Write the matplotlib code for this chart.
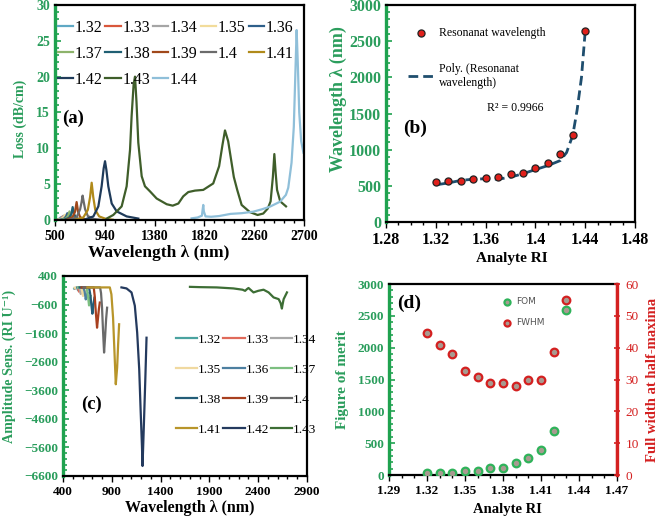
import numpy as np
import matplotlib
matplotlib.use("Agg")
import matplotlib.pyplot as plt
from matplotlib.ticker import MultipleLocator, FixedLocator

plt.rcParams['font.family'] = ['Liberation Serif', 'DejaVu Serif']

GREEN = '#1fa24f'
GREEN_TXT = '#2a9d5c'
RED = '#d42020'

# ---------------- (a) loss spectra, (wavelength nm, loss dB/cm) ----------------
ri_a = ['1.32', '1.33', '1.34', '1.35', '1.36', '1.37', '1.38', '1.39', '1.4', '1.41', '1.42', '1.43', '1.44']
col_a = ['#5fa8c4', '#d9573b', '#a5a5a5', '#f2dc9b', '#2e5f8a', '#8db36b', '#1f5f73',
         '#a0481a', '#6b6b6b', '#b08a1a', '#1f3b5a', '#3f5e2a', '#8fbfd9']

a_132 = [(505, 0.02), (530, 0.12), (545, 0.28), (553, 0.4), (561, 0.28), (575, 0.12), (600, 0.04), (640, 0.01)]
a_133 = [(515, 0.02), (545, 0.15), (559, 0.33), (567, 0.5), (575, 0.33), (590, 0.14), (620, 0.04), (660, 0.01)]
a_134 = [(520, 0.02), (550, 0.17), (566, 0.4), (575, 0.6), (584, 0.4), (600, 0.16), (630, 0.05), (670, 0.01)]
a_135 = [(530, 0.02), (562, 0.2), (580, 0.45), (590, 0.75), (600, 0.45), (616, 0.2), (645, 0.06), (690, 0.01)]
a_136 = [(540, 0.02), (580, 0.18), (598, 0.5), (609, 0.95), (620, 0.5), (636, 0.18), (665, 0.05), (710, 0.01)]
a_137 = [(560, 0.03), (598, 0.22), (617, 0.62), (628, 1.2), (639, 0.62), (656, 0.22), (690, 0.06), (730, 0.01)]
a_138 = [(580, 0.03), (625, 0.3), (645, 0.85), (656, 1.8), (668, 0.85), (686, 0.3), (720, 0.08), (770, 0.02)]
a_139 = [(600, 0.03), (655, 0.4), (677, 1.15), (691, 2.5), (704, 1.15), (722, 0.4), (760, 0.1), (810, 0.02)]
a_140 = [(620, 0.03), (690, 0.35), (722, 1.5), (735, 2.5), (744, 3.4), (754, 2.5), (766, 1.5), (790, 0.55), (840, 0.15), (900, 0.04)]
a_141 = [(680, 0.04), (750, 0.35), (790, 1.4), (810, 3.2), (824, 5.2), (838, 3.2), (856, 1.4), (890, 0.5), (950, 0.15), (1010, 0.04)]
a_142 = [(760, 0.05), (839, 0.5), (883, 1.9), (912, 4.7), (930, 7.2), (942, 8.2), (954, 7.0), (971, 4.7), (1001, 2.3),
         (1045, 1.2), (1133, 0.5), (1236, 0.2)]
a_143 = [(957, 0.2), (1015, 0.7), (1089, 1.9), (1133, 4.7), (1163, 9.8), (1177, 14.5), (1195, 19.0), (1207, 20.0),
         (1220, 16.5), (1236, 10.8), (1266, 6.1), (1295, 4.7), (1339, 4.0), (1398, 3.0), (1487, 2.2), (1540, 2.0),
         (1590, 2.3), (1633, 3.3), (1678, 3.9), (1737, 4.1), (1810, 4.2), (1898, 5.1), (1950, 7.5), (1980, 10.5),
         (2002, 12.5), (2030, 11.0), (2060, 8.0), (2080, 6.0), (2110, 4.2), (2149, 2.1), (2222, 1.1), (2290, 0.7),
         (2340, 0.9), (2380, 1.6), (2405, 2.6), (2425, 6.0), (2438, 9.2), (2450, 6.5), (2462, 4.2), (2490, 2.6), (2541, 1.9)]
a_144 = [(1707, 0.23), (1760, 0.35), (1798, 0.6), (1805, 1.5), (1810, 2.1), (1815, 1.2), (1830, 0.5), (1880, 0.45),
         (1950, 0.55), (2050, 0.85), (2150, 0.95), (2252, 1.16), (2330, 1.5), (2399, 1.86), (2488, 2.55), (2540, 3.5),
         (2561, 4.5), (2590, 8.0), (2610, 13.0), (2622, 19.5), (2635, 26.5), (2645, 22.0), (2658, 15.0), (2675, 11.0),
         (2695, 9.4)]
series_a = [a_132, a_133, a_134, a_135, a_136, a_137, a_138, a_139, a_140, a_141, a_142, a_143, a_144]

# ---------------- (b) resonant wavelength vs RI ----------------
ri_b = [1.32, 1.33, 1.34, 1.35, 1.36, 1.37, 1.38, 1.39, 1.40, 1.41, 1.42, 1.43, 1.44]
res_wl = [553, 567, 567, 590, 609, 628, 660, 684, 740, 814, 935, 1205, 2647]
poly_ri = [1.3205, 1.33, 1.34, 1.35, 1.36, 1.37, 1.38, 1.39, 1.40, 1.41, 1.42, 1.425, 1.43, 1.4335, 1.437, 1.44]
poly_wl = [515, 540, 575, 592, 598, 592, 620, 668, 725, 780, 850, 960, 1200, 1550, 2000, 2640]

# ---------------- (c) amplitude sensitivity, (wavelength nm, RIU^-1) ----------------
ri_c = ['1.32', '1.33', '1.34', '1.35', '1.36', '1.37', '1.38', '1.39', '1.4', '1.41', '1.42', '1.43']
col_c = ['#4aa3a0', '#e06a5a', '#a8a8a8', '#f0d9a0', '#4d7fa0', '#7cbf80', '#235d78',
         '#a8401f', '#6a6a6a', '#b8952a', '#243a5e', '#3d6e35']

c_132 = [(515, -40), (535, -10), (548, -40), (554, -100), (562, -60), (572, -30)]
c_133 = [(525, -30), (550, -10), (558, -60), (564, -150), (572, -90), (582, -50)]
c_134 = [(530, -20), (565, -10), (575, -90), (582, -230), (590, -140), (600, -80)]
c_135 = [(520, -10), (585, -10), (596, -120), (605, -300), (614, -200), (626, -130)]
c_136 = [(545, -5), (610, -5), (622, -150), (633, -420), (642, -300), (651, -200)]
c_137 = [(555, 0), (640, 0), (652, -200), (667, -630), (675, -450), (684, -300)]
c_138 = [(570, 0), (667, 0), (680, -250), (692, -650), (701, -920), (712, -600), (722, -360)]
c_139 = [(590, 0), (715, 0), (725, -300), (737, -900), (749, -1410), (758, -1100), (768, -750), (777, -530)]
c_140 = [(610, 0), (780, 0), (790, -200), (800, -700), (810, -1500), (821, -2280), (832, -1700), (842, -1100), (852, -710)]
c_141 = [(650, 0), (880, 0), (896, -240), (913, -1060), (927, -2220), (941, -3390), (955, -2800), (965, -1990), (975, -1290)]
c_142 = [(999, 0), (1051, -35), (1102, -175), (1136, -640), (1160, -1575), (1181, -2860), (1195, -4250), (1209, -5540),
         (1215, -6250), (1229, -4790), (1243, -3275), (1256, -1760)]
c_143 = [(1701, 20), (1800, 10), (1975, 0), (2146, -35), (2240, -80), (2266, -120), (2285, -60), (2301, -20),
         (2352, -175), (2400, -120), (2455, -80), (2507, -175), (2558, -350), (2610, -410), (2630, -550), (2643, -740),
         (2650, -600), (2661, -410), (2695, -175)]
series_c = [c_132, c_133, c_134, c_135, c_136, c_137, c_138, c_139, c_140, c_141, c_142, c_143]

# ---------------- (d) FOM and FWHM ----------------
ri_d = [1.32, 1.33, 1.34, 1.35, 1.36, 1.37, 1.38, 1.39, 1.40, 1.41, 1.42, 1.43]
fom = [26, 26, 26, 68, 68, 105, 105, 184, 273, 399, 692, 2585]
fwhm = [44.7, 40.9, 38.0, 32.8, 30.8, 29.0, 29.0, 28.0, 30.0, 30.0, 38.8, 54.9]


def style_axes(ax, size, left_color=GREEN, right_color='black'):
    for s in ['top', 'right', 'bottom']:
        ax.spines[s].set_color('black')
        ax.spines[s].set_linewidth(1.6)
    ax.spines['right'].set_color(right_color)
    ax.spines['left'].set_color(left_color)
    ax.spines['left'].set_linewidth(2.4)
    ax.tick_params(axis='y', which='both', direction='in', colors=left_color, labelcolor=GREEN_TXT,
                   labelsize=size, width=1.2)
    ax.tick_params(axis='y', which='major', length=4)
    ax.tick_params(axis='y', which='minor', length=3)
    ax.tick_params(axis='x', which='both', direction='out', labelsize=size, width=1.0)
    ax.tick_params(axis='x', which='major', length=4)
    ax.tick_params(axis='x', which='minor', length=2.5)
    for t in ax.get_xticklabels() + ax.get_yticklabels():
        t.set_fontweight('bold')


def put_labels(ax, xl, xs, xpos, yl, ys, ypos, ycolor=GREEN_TXT):
    ax.set_xlabel(xl, fontsize=xs, fontweight='bold')
    ax.set_ylabel(yl, fontsize=ys, fontweight='bold', color=ycolor)
    ax.xaxis.label.set_va('center')
    ax.yaxis.label.set_va('center')
    ax.xaxis.set_label_coords(*xpos)
    ax.yaxis.set_label_coords(*ypos)


fig = plt.figure(figsize=(6.61, 5.18), dpi=100)

# ---- (a)
ax = fig.add_axes([0.0832, 0.5753, 0.3767, 0.4151])
for lab, c, s in zip(ri_a, col_a, series_a):
    xy = np.array(s)
    ax.plot(xy[:, 0], xy[:, 1], color=c, lw=1.6, label=lab)
ax.set_xlim(500, 2700)
ax.set_ylim(0, 30)
ax.set_xticks([500, 940, 1380, 1820, 2260, 2700])
ax.xaxis.set_minor_locator(FixedLocator(np.arange(500, 2701, 88)))
ax.yaxis.set_major_locator(MultipleLocator(5))
ax.yaxis.set_minor_locator(MultipleLocator(1))
style_axes(ax, 10)
put_labels(ax, 'Wavelength λ (nm)', 12.5, (0.418, -0.155), 'Loss (dB/cm)', 10, (-0.14, 0.47))
h, l = ax.get_legend_handles_labels()
order = [0, 5, 10, 1, 6, 11, 2, 7, 12, 3, 8, 4, 9]
ax.legend([h[i] for i in order], [l[i] for i in order], ncol=5, loc='upper left',
          bbox_to_anchor=(-0.015, 0.96), frameon=False, fontsize=11.5,
          handlelength=0.95, handletextpad=0.1, columnspacing=0.2, labelspacing=0.62, borderaxespad=0)
ax.text(0.03, 0.475, '(a)', transform=ax.transAxes, fontsize=13.5, fontweight='bold', va='center')

# ---- (b)
ax = fig.add_axes([0.5840, 0.5714, 0.3767, 0.4189])
ax.plot(poly_ri, poly_wl, ls=(0, (3.5, 1.8)), color='#1f4e6e', lw=2.0, zorder=2,
        label='Poly. (Resonanat\nwavelength)')
ax.scatter(ri_b, res_wl, s=26, color='#e0201b', edgecolors='#222222', linewidths=0.9, zorder=3,
           label='Resonanat wavelength')
ax.set_xlim(1.28, 1.48)
ax.set_ylim(0, 3000)
ax.set_xticks([1.28, 1.32, 1.36, 1.40, 1.44, 1.48])
ax.set_xticklabels(['1.28', '1.32', '1.36', '1.4', '1.44', '1.48'])
ax.xaxis.set_minor_locator(MultipleLocator(0.01))
ax.yaxis.set_major_locator(MultipleLocator(500))
ax.yaxis.set_minor_locator(MultipleLocator(100))
style_axes(ax, 11.5)
put_labels(ax, 'Analyte RI', 11, (0.506, -0.168), 'Wavelength λ (nm)', 13, (-0.19, 0.567))
h, l = ax.get_legend_handles_labels()
ax.legend(h[::-1], l[::-1], loc='upper left', bbox_to_anchor=(0.07, 0.92), frameon=False, fontsize=8.5,
          handlelength=2.2, handletextpad=0.4, labelspacing=2.0, borderaxespad=0)
ax.text(0.405, 0.525, 'R² = 0.9966', transform=ax.transAxes, fontsize=8.5, va='center')
ax.text(0.07, 0.433, '(b)', transform=ax.transAxes, fontsize=14, fontweight='bold', va='center')

# ---- (c)
ax = fig.add_axes([0.0953, 0.0811, 0.3691, 0.3861])
for lab, c, s in zip(ri_c, col_c, series_c):
    xy = np.array(s)
    ax.plot(xy[:, 0], xy[:, 1], color=c, lw=1.6, label=lab)
ax.set_xlim(400, 2900)
ax.set_ylim(-6600, 400)
ax.set_xticks([400, 900, 1400, 1900, 2400, 2900])
ax.xaxis.set_minor_locator(MultipleLocator(100))
ax.set_yticks(np.arange(-6600, 401, 1000))
ax.yaxis.set_minor_locator(FixedLocator(np.arange(-6600, 401, 200)))
style_axes(ax, 9.5)
put_labels(ax, 'Wavelength λ (nm)', 11.5, (0.52, -0.158), 'Amplitude Sens. (RI U⁻¹)', 10.2, (-0.221, 0.55))
h, l = ax.get_legend_handles_labels()
order = [0, 3, 6, 9, 1, 4, 7, 10, 2, 5, 8, 11]
ax.legend([h[i] for i in order], [l[i] for i in order], ncol=3, loc='upper left',
          bbox_to_anchor=(0.44, 0.74), frameon=False, fontsize=9.5,
          handlelength=1.65, handletextpad=0.05, columnspacing=0.12, labelspacing=1.35, borderaxespad=0)
ax.text(0.075, 0.36, '(c)', transform=ax.transAxes, fontsize=13.5, fontweight='bold', va='center')

# ---- (d)
ax = fig.add_axes([0.5885, 0.0830, 0.3449, 0.3687])
ax2 = ax.twinx()
p1 = ax.scatter(ri_d, fom, s=30, color='#a89a90', edgecolors='#2fb35a', linewidths=1.6, zorder=3, label='FOM')
p2 = ax2.scatter(ri_d, fwhm, s=30, color='#a89a90', edgecolors='#d42020', linewidths=1.6, zorder=3, label='FWHM')
ax.set_xlim(1.29, 1.47)
ax.set_ylim(0, 3000)
ax2.set_ylim(0, 60)
ax.set_xticks([1.29, 1.32, 1.35, 1.38, 1.41, 1.44, 1.47])
ax.set_xticklabels(['1.29', '1.32', '1.35', '1.38', '1.41', '1.44', '1.47'])
ax.xaxis.set_minor_locator(MultipleLocator(0.01))
ax.yaxis.set_major_locator(MultipleLocator(500))
ax.yaxis.set_minor_locator(MultipleLocator(100))
style_axes(ax, 9.5, right_color=RED)
ax2.yaxis.set_major_locator(MultipleLocator(10))
for s in ['top', 'left', 'bottom']:
    ax2.spines[s].set_visible(False)
ax2.spines['right'].set_color(RED)
ax2.spines['right'].set_linewidth(2.4)
ax2.tick_params(axis='y', direction='inout', colors=RED, labelcolor=RED, labelsize=9.5, length=5, width=1.2)
put_labels(ax, 'Analyte RI', 10.5, (0.52, -0.178), 'Figure of merit', 11, (-0.206, 0.5))
ax2.set_ylabel('Full width at half-maxima', fontsize=10.5, fontweight='bold', color=RED)
ax2.yaxis.label.set_va('center')
ax2.yaxis.set_label_coords(1.154, 0.5)
ax2.legend([p1, p2], ['FOM', 'FWHM'], loc='upper left', bbox_to_anchor=(0.46, 0.95), frameon=False,
           prop={'family': 'DejaVu Sans', 'size': 6.5}, labelcolor='#555555', handletextpad=0.1,
           labelspacing=1.3, markerscale=0.8, borderaxespad=0)
ax.text(0.035, 0.9, '(d)', transform=ax.transAxes, fontsize=14, fontweight='bold', va='center')

fig.savefig('out.png', dpi=100)
